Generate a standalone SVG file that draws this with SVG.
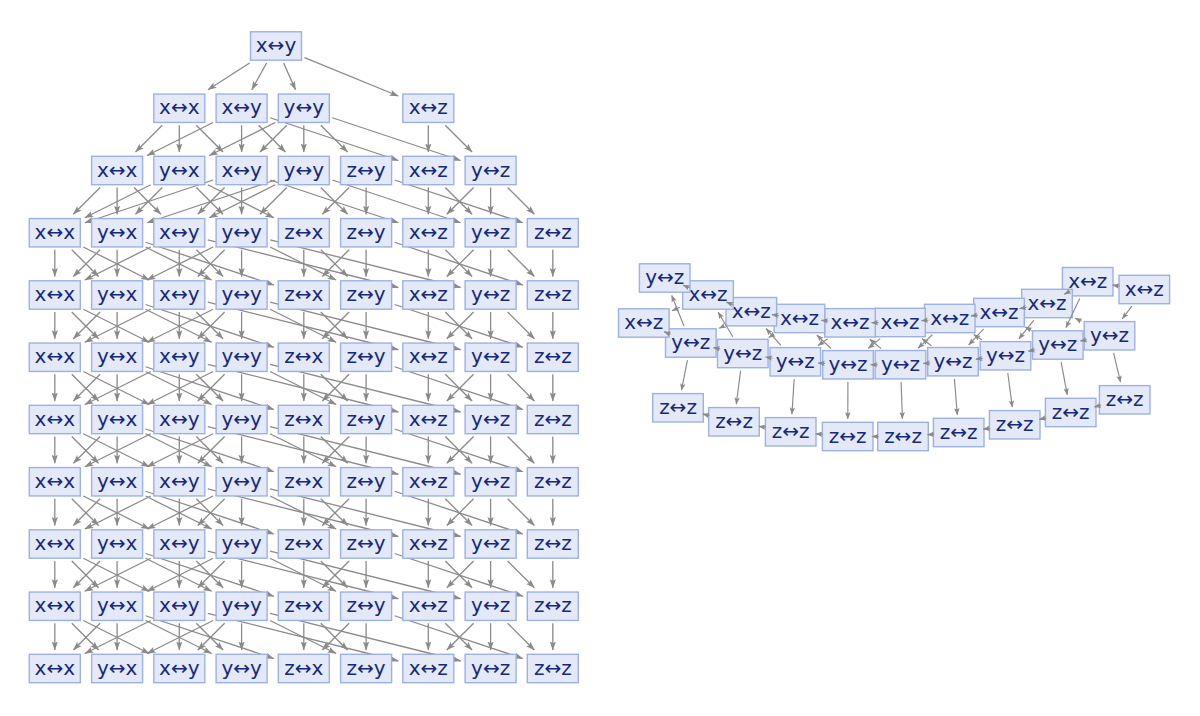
<svg xmlns="http://www.w3.org/2000/svg" width="1200" height="716" viewBox="0 0 1200 716">
<style>
.n rect{fill:#e4e9f8;stroke:#9db1e4;stroke-width:1.4}
.n text{font-family:"DejaVu Sans","Liberation Sans",sans-serif;font-size:20px;fill:#16297b;text-anchor:middle}
.e line{stroke:#8a8a8a;stroke-width:1.3;fill:none;marker-end:url(#ah)}
.er line{stroke:#8a8a8a;stroke-width:1.15;fill:none;marker-end:url(#ahs)}
</style>
<defs>
<marker id="ah" markerUnits="userSpaceOnUse" viewBox="0 0 10 8" markerWidth="10" markerHeight="8" refX="8.5" refY="4" orient="auto"><path d="M0,0.9 L9,4 L0,7.1 L1.8,4 z" fill="#8a8a8a"/></marker>
<marker id="ahs" markerUnits="userSpaceOnUse" viewBox="0 0 8 7" markerWidth="8" markerHeight="7" refX="6.6" refY="3.5" orient="auto"><path d="M0,0.8 L7,3.5 L0,6.2 L1.4,3.5 z" fill="#8a8a8a"/></marker>
</defs>
<rect width="1200" height="716" fill="#ffffff"/>
<g id="connectors-left" class="e">
<line x1="249.6" y1="63" x2="208" y2="89.75"/>
<line x1="266.6" y1="63" x2="251.8" y2="89.75"/>
<line x1="283.6" y1="63" x2="295.5" y2="89.75"/>
<line x1="304.5" y1="57.6" x2="398.3" y2="96"/>
<g transform="translate(0,108.25)">
<line x1="162.3" y1="17" x2="135.55" y2="43.75"/>
<line x1="179.3" y1="17" x2="179.3" y2="43.75"/>
<line x1="196.3" y1="17" x2="223.05" y2="43.75"/>
<line x1="241.6" y1="17" x2="241.6" y2="43.75"/>
<line x1="258.6" y1="17" x2="285.35" y2="43.75"/>
<line x1="213.1" y1="14.25" x2="147.1" y2="47.25"/>
<line x1="270.1" y1="9.5" x2="398.35" y2="52.25"/>
<line x1="303.8" y1="17" x2="303.8" y2="43.75"/>
<line x1="286.8" y1="17" x2="260.05" y2="43.75"/>
<line x1="320.8" y1="17" x2="347.55" y2="43.75"/>
<line x1="275.3" y1="14.25" x2="209.3" y2="47.25"/>
<line x1="332.3" y1="9.5" x2="460.55" y2="52.25"/>
<line x1="428.3" y1="17" x2="428.3" y2="43.75"/>
<line x1="445.3" y1="17" x2="472.05" y2="43.75"/>
</g>
<g transform="translate(0,170.5)">
<line x1="100.1" y1="17" x2="73.35" y2="43.75"/>
<line x1="117.1" y1="17" x2="117.1" y2="43.75"/>
<line x1="134.1" y1="17" x2="160.85" y2="43.75"/>
<line x1="162.3" y1="17" x2="135.55" y2="43.75"/>
<line x1="150.8" y1="14.25" x2="84.8" y2="47.25"/>
<line x1="207.8" y1="14.25" x2="273.8" y2="47.25"/>
<line x1="196.3" y1="17" x2="223.05" y2="43.75"/>
<line x1="224.6" y1="17" x2="197.85" y2="43.75"/>
<line x1="241.6" y1="17" x2="241.6" y2="43.75"/>
<line x1="213.1" y1="9.5" x2="84.85" y2="52.25"/>
<line x1="270.1" y1="9.5" x2="398.35" y2="52.25"/>
<line x1="286.8" y1="17" x2="260.05" y2="43.75"/>
<line x1="275.3" y1="14.25" x2="209.3" y2="47.25"/>
<line x1="320.8" y1="17" x2="347.55" y2="43.75"/>
<line x1="275.3" y1="9.5" x2="147.05" y2="52.25"/>
<line x1="332.3" y1="9.5" x2="460.55" y2="52.25"/>
<line x1="366.1" y1="17" x2="366.1" y2="43.75"/>
<line x1="349.1" y1="17" x2="322.35" y2="43.75"/>
<line x1="394.6" y1="9.5" x2="522.85" y2="52.25"/>
<line x1="428.3" y1="17" x2="428.3" y2="43.75"/>
<line x1="445.3" y1="17" x2="472.05" y2="43.75"/>
<line x1="490.6" y1="17" x2="490.6" y2="43.75"/>
<line x1="473.6" y1="17" x2="446.85" y2="43.75"/>
<line x1="507.6" y1="17" x2="534.35" y2="43.75"/>
</g>
<g transform="translate(0,232.75)">
<line x1="54.8" y1="17" x2="54.8" y2="43.75"/><line x1="71.8" y1="17" x2="98.55" y2="43.75"/><line x1="83.3" y1="14.25" x2="149.3" y2="47.25"/>
<line x1="117.1" y1="17" x2="117.1" y2="43.75"/><line x1="100.1" y1="17" x2="73.35" y2="43.75"/><line x1="145.6" y1="9.5" x2="273.85" y2="52.25"/><line x1="145.6" y1="14.25" x2="211.6" y2="47.25"/>
<line x1="179.3" y1="17" x2="179.3" y2="43.75"/><line x1="196.3" y1="17" x2="223.05" y2="43.75"/><line x1="150.8" y1="14.25" x2="84.8" y2="47.25"/><line x1="207.8" y1="7.13" x2="398.3" y2="54.75"/>
<line x1="241.6" y1="17" x2="241.6" y2="43.75"/><line x1="224.6" y1="17" x2="197.85" y2="43.75"/><line x1="270.1" y1="14.25" x2="336.1" y2="47.25"/><line x1="213.1" y1="14.25" x2="147.1" y2="47.25"/><line x1="270.1" y1="7.13" x2="460.6" y2="54.75"/>
<line x1="303.8" y1="17" x2="303.8" y2="43.75"/><line x1="320.8" y1="17" x2="347.55" y2="43.75"/>
<line x1="366.1" y1="17" x2="366.1" y2="43.75"/><line x1="349.1" y1="17" x2="322.35" y2="43.75"/><line x1="394.6" y1="9.5" x2="522.85" y2="52.25"/>
<line x1="428.3" y1="17" x2="428.3" y2="43.75"/><line x1="445.3" y1="17" x2="472.05" y2="43.75"/>
<line x1="490.6" y1="17" x2="490.6" y2="43.75"/><line x1="473.6" y1="17" x2="446.85" y2="43.75"/><line x1="507.6" y1="17" x2="534.35" y2="43.75"/>
<line x1="552.8" y1="17" x2="552.8" y2="43.75"/>
</g>
<g transform="translate(0,295)">
<line x1="54.8" y1="17" x2="54.8" y2="43.75"/><line x1="71.8" y1="17" x2="98.55" y2="43.75"/><line x1="83.3" y1="14.25" x2="149.3" y2="47.25"/>
<line x1="117.1" y1="17" x2="117.1" y2="43.75"/><line x1="100.1" y1="17" x2="73.35" y2="43.75"/><line x1="145.6" y1="9.5" x2="273.85" y2="52.25"/><line x1="145.6" y1="14.25" x2="211.6" y2="47.25"/>
<line x1="179.3" y1="17" x2="179.3" y2="43.75"/><line x1="196.3" y1="17" x2="223.05" y2="43.75"/><line x1="150.8" y1="14.25" x2="84.8" y2="47.25"/><line x1="207.8" y1="7.13" x2="398.3" y2="54.75"/>
<line x1="241.6" y1="17" x2="241.6" y2="43.75"/><line x1="224.6" y1="17" x2="197.85" y2="43.75"/><line x1="270.1" y1="14.25" x2="336.1" y2="47.25"/><line x1="213.1" y1="14.25" x2="147.1" y2="47.25"/><line x1="270.1" y1="7.13" x2="460.6" y2="54.75"/>
<line x1="303.8" y1="17" x2="303.8" y2="43.75"/><line x1="320.8" y1="17" x2="347.55" y2="43.75"/>
<line x1="366.1" y1="17" x2="366.1" y2="43.75"/><line x1="349.1" y1="17" x2="322.35" y2="43.75"/><line x1="394.6" y1="9.5" x2="522.85" y2="52.25"/>
<line x1="428.3" y1="17" x2="428.3" y2="43.75"/><line x1="445.3" y1="17" x2="472.05" y2="43.75"/>
<line x1="490.6" y1="17" x2="490.6" y2="43.75"/><line x1="473.6" y1="17" x2="446.85" y2="43.75"/><line x1="507.6" y1="17" x2="534.35" y2="43.75"/>
<line x1="552.8" y1="17" x2="552.8" y2="43.75"/>
</g>
<g transform="translate(0,357.25)">
<line x1="54.8" y1="17" x2="54.8" y2="43.75"/><line x1="71.8" y1="17" x2="98.55" y2="43.75"/><line x1="83.3" y1="14.25" x2="149.3" y2="47.25"/>
<line x1="117.1" y1="17" x2="117.1" y2="43.75"/><line x1="100.1" y1="17" x2="73.35" y2="43.75"/><line x1="145.6" y1="9.5" x2="273.85" y2="52.25"/><line x1="145.6" y1="14.25" x2="211.6" y2="47.25"/>
<line x1="179.3" y1="17" x2="179.3" y2="43.75"/><line x1="196.3" y1="17" x2="223.05" y2="43.75"/><line x1="150.8" y1="14.25" x2="84.8" y2="47.25"/><line x1="207.8" y1="7.13" x2="398.3" y2="54.75"/>
<line x1="241.6" y1="17" x2="241.6" y2="43.75"/><line x1="224.6" y1="17" x2="197.85" y2="43.75"/><line x1="270.1" y1="14.25" x2="336.1" y2="47.25"/><line x1="213.1" y1="14.25" x2="147.1" y2="47.25"/><line x1="270.1" y1="7.13" x2="460.6" y2="54.75"/>
<line x1="303.8" y1="17" x2="303.8" y2="43.75"/><line x1="320.8" y1="17" x2="347.55" y2="43.75"/>
<line x1="366.1" y1="17" x2="366.1" y2="43.75"/><line x1="349.1" y1="17" x2="322.35" y2="43.75"/><line x1="394.6" y1="9.5" x2="522.85" y2="52.25"/>
<line x1="428.3" y1="17" x2="428.3" y2="43.75"/><line x1="445.3" y1="17" x2="472.05" y2="43.75"/>
<line x1="490.6" y1="17" x2="490.6" y2="43.75"/><line x1="473.6" y1="17" x2="446.85" y2="43.75"/><line x1="507.6" y1="17" x2="534.35" y2="43.75"/>
<line x1="552.8" y1="17" x2="552.8" y2="43.75"/>
</g>
<g transform="translate(0,419.5)">
<line x1="54.8" y1="17" x2="54.8" y2="43.75"/><line x1="71.8" y1="17" x2="98.55" y2="43.75"/><line x1="83.3" y1="14.25" x2="149.3" y2="47.25"/>
<line x1="117.1" y1="17" x2="117.1" y2="43.75"/><line x1="100.1" y1="17" x2="73.35" y2="43.75"/><line x1="145.6" y1="9.5" x2="273.85" y2="52.25"/><line x1="145.6" y1="14.25" x2="211.6" y2="47.25"/>
<line x1="179.3" y1="17" x2="179.3" y2="43.75"/><line x1="196.3" y1="17" x2="223.05" y2="43.75"/><line x1="150.8" y1="14.25" x2="84.8" y2="47.25"/><line x1="207.8" y1="7.13" x2="398.3" y2="54.75"/>
<line x1="241.6" y1="17" x2="241.6" y2="43.75"/><line x1="224.6" y1="17" x2="197.85" y2="43.75"/><line x1="270.1" y1="14.25" x2="336.1" y2="47.25"/><line x1="213.1" y1="14.25" x2="147.1" y2="47.25"/><line x1="270.1" y1="7.13" x2="460.6" y2="54.75"/>
<line x1="303.8" y1="17" x2="303.8" y2="43.75"/><line x1="320.8" y1="17" x2="347.55" y2="43.75"/>
<line x1="366.1" y1="17" x2="366.1" y2="43.75"/><line x1="349.1" y1="17" x2="322.35" y2="43.75"/><line x1="394.6" y1="9.5" x2="522.85" y2="52.25"/>
<line x1="428.3" y1="17" x2="428.3" y2="43.75"/><line x1="445.3" y1="17" x2="472.05" y2="43.75"/>
<line x1="490.6" y1="17" x2="490.6" y2="43.75"/><line x1="473.6" y1="17" x2="446.85" y2="43.75"/><line x1="507.6" y1="17" x2="534.35" y2="43.75"/>
<line x1="552.8" y1="17" x2="552.8" y2="43.75"/>
</g>
<g transform="translate(0,481.75)">
<line x1="54.8" y1="17" x2="54.8" y2="43.75"/><line x1="71.8" y1="17" x2="98.55" y2="43.75"/><line x1="83.3" y1="14.25" x2="149.3" y2="47.25"/>
<line x1="117.1" y1="17" x2="117.1" y2="43.75"/><line x1="100.1" y1="17" x2="73.35" y2="43.75"/><line x1="145.6" y1="9.5" x2="273.85" y2="52.25"/><line x1="145.6" y1="14.25" x2="211.6" y2="47.25"/>
<line x1="179.3" y1="17" x2="179.3" y2="43.75"/><line x1="196.3" y1="17" x2="223.05" y2="43.75"/><line x1="150.8" y1="14.25" x2="84.8" y2="47.25"/><line x1="207.8" y1="7.13" x2="398.3" y2="54.75"/>
<line x1="241.6" y1="17" x2="241.6" y2="43.75"/><line x1="224.6" y1="17" x2="197.85" y2="43.75"/><line x1="270.1" y1="14.25" x2="336.1" y2="47.25"/><line x1="213.1" y1="14.25" x2="147.1" y2="47.25"/><line x1="270.1" y1="7.13" x2="460.6" y2="54.75"/>
<line x1="303.8" y1="17" x2="303.8" y2="43.75"/><line x1="320.8" y1="17" x2="347.55" y2="43.75"/>
<line x1="366.1" y1="17" x2="366.1" y2="43.75"/><line x1="349.1" y1="17" x2="322.35" y2="43.75"/><line x1="394.6" y1="9.5" x2="522.85" y2="52.25"/>
<line x1="428.3" y1="17" x2="428.3" y2="43.75"/><line x1="445.3" y1="17" x2="472.05" y2="43.75"/>
<line x1="490.6" y1="17" x2="490.6" y2="43.75"/><line x1="473.6" y1="17" x2="446.85" y2="43.75"/><line x1="507.6" y1="17" x2="534.35" y2="43.75"/>
<line x1="552.8" y1="17" x2="552.8" y2="43.75"/>
</g>
<g transform="translate(0,544)">
<line x1="54.8" y1="17" x2="54.8" y2="43.75"/><line x1="71.8" y1="17" x2="98.55" y2="43.75"/><line x1="83.3" y1="14.25" x2="149.3" y2="47.25"/>
<line x1="117.1" y1="17" x2="117.1" y2="43.75"/><line x1="100.1" y1="17" x2="73.35" y2="43.75"/><line x1="145.6" y1="9.5" x2="273.85" y2="52.25"/><line x1="145.6" y1="14.25" x2="211.6" y2="47.25"/>
<line x1="179.3" y1="17" x2="179.3" y2="43.75"/><line x1="196.3" y1="17" x2="223.05" y2="43.75"/><line x1="150.8" y1="14.25" x2="84.8" y2="47.25"/><line x1="207.8" y1="7.13" x2="398.3" y2="54.75"/>
<line x1="241.6" y1="17" x2="241.6" y2="43.75"/><line x1="224.6" y1="17" x2="197.85" y2="43.75"/><line x1="270.1" y1="14.25" x2="336.1" y2="47.25"/><line x1="213.1" y1="14.25" x2="147.1" y2="47.25"/><line x1="270.1" y1="7.13" x2="460.6" y2="54.75"/>
<line x1="303.8" y1="17" x2="303.8" y2="43.75"/><line x1="320.8" y1="17" x2="347.55" y2="43.75"/>
<line x1="366.1" y1="17" x2="366.1" y2="43.75"/><line x1="349.1" y1="17" x2="322.35" y2="43.75"/><line x1="394.6" y1="9.5" x2="522.85" y2="52.25"/>
<line x1="428.3" y1="17" x2="428.3" y2="43.75"/><line x1="445.3" y1="17" x2="472.05" y2="43.75"/>
<line x1="490.6" y1="17" x2="490.6" y2="43.75"/><line x1="473.6" y1="17" x2="446.85" y2="43.75"/><line x1="507.6" y1="17" x2="534.35" y2="43.75"/>
<line x1="552.8" y1="17" x2="552.8" y2="43.75"/>
</g>
<g transform="translate(0,606.25)">
<line x1="54.8" y1="17" x2="54.8" y2="43.75"/><line x1="71.8" y1="17" x2="98.55" y2="43.75"/><line x1="83.3" y1="14.25" x2="149.3" y2="47.25"/>
<line x1="117.1" y1="17" x2="117.1" y2="43.75"/><line x1="100.1" y1="17" x2="73.35" y2="43.75"/><line x1="145.6" y1="9.5" x2="273.85" y2="52.25"/><line x1="145.6" y1="14.25" x2="211.6" y2="47.25"/>
<line x1="179.3" y1="17" x2="179.3" y2="43.75"/><line x1="196.3" y1="17" x2="223.05" y2="43.75"/><line x1="150.8" y1="14.25" x2="84.8" y2="47.25"/><line x1="207.8" y1="7.13" x2="398.3" y2="54.75"/>
<line x1="241.6" y1="17" x2="241.6" y2="43.75"/><line x1="224.6" y1="17" x2="197.85" y2="43.75"/><line x1="270.1" y1="14.25" x2="336.1" y2="47.25"/><line x1="213.1" y1="14.25" x2="147.1" y2="47.25"/><line x1="270.1" y1="7.13" x2="460.6" y2="54.75"/>
<line x1="303.8" y1="17" x2="303.8" y2="43.75"/><line x1="320.8" y1="17" x2="347.55" y2="43.75"/>
<line x1="366.1" y1="17" x2="366.1" y2="43.75"/><line x1="349.1" y1="17" x2="322.35" y2="43.75"/><line x1="394.6" y1="9.5" x2="522.85" y2="52.25"/>
<line x1="428.3" y1="17" x2="428.3" y2="43.75"/><line x1="445.3" y1="17" x2="472.05" y2="43.75"/>
<line x1="490.6" y1="17" x2="490.6" y2="43.75"/><line x1="473.6" y1="17" x2="446.85" y2="43.75"/><line x1="507.6" y1="17" x2="534.35" y2="43.75"/>
<line x1="552.8" y1="17" x2="552.8" y2="43.75"/>
</g>
</g>
<g id="nodes-left">
<g id="L1-xy" class="n" transform="translate(276,46)"><rect x="-25.5" y="-14.2" width="51" height="28.4"/><text y="6">x↔y</text></g>
<g id="L2-xx" class="n" transform="translate(179.3,108.25)"><rect x="-25.5" y="-14.2" width="51" height="28.4"/><text y="6">x↔x</text></g>
<g id="L2-xy" class="n" transform="translate(241.6,108.25)"><rect x="-25.5" y="-14.2" width="51" height="28.4"/><text y="6">x↔y</text></g>
<g id="L2-yy" class="n" transform="translate(303.8,108.25)"><rect x="-25.5" y="-14.2" width="51" height="28.4"/><text y="6">y↔y</text></g>
<g id="L2-xz" class="n" transform="translate(428.3,108.25)"><rect x="-25.5" y="-14.2" width="51" height="28.4"/><text y="6">x↔z</text></g>
<g id="L3-xx" class="n" transform="translate(117.1,170.5)"><rect x="-25.5" y="-14.2" width="51" height="28.4"/><text y="6">x↔x</text></g>
<g id="L3-yx" class="n" transform="translate(179.3,170.5)"><rect x="-25.5" y="-14.2" width="51" height="28.4"/><text y="6">y↔x</text></g>
<g id="L3-xy" class="n" transform="translate(241.6,170.5)"><rect x="-25.5" y="-14.2" width="51" height="28.4"/><text y="6">x↔y</text></g>
<g id="L3-yy" class="n" transform="translate(303.8,170.5)"><rect x="-25.5" y="-14.2" width="51" height="28.4"/><text y="6">y↔y</text></g>
<g id="L3-zy" class="n" transform="translate(366.1,170.5)"><rect x="-25.5" y="-14.2" width="51" height="28.4"/><text y="6">z↔y</text></g>
<g id="L3-xz" class="n" transform="translate(428.3,170.5)"><rect x="-25.5" y="-14.2" width="51" height="28.4"/><text y="6">x↔z</text></g>
<g id="L3-yz" class="n" transform="translate(490.6,170.5)"><rect x="-25.5" y="-14.2" width="51" height="28.4"/><text y="6">y↔z</text></g>
<g id="L4" transform="translate(0,232.75)">
<g id="L4-xx" class="n" transform="translate(54.8,0)"><rect x="-25.5" y="-14.2" width="51" height="28.4"/><text y="6">x↔x</text></g>
<g id="L4-yx" class="n" transform="translate(117.1,0)"><rect x="-25.5" y="-14.2" width="51" height="28.4"/><text y="6">y↔x</text></g>
<g id="L4-xy" class="n" transform="translate(179.3,0)"><rect x="-25.5" y="-14.2" width="51" height="28.4"/><text y="6">x↔y</text></g>
<g id="L4-yy" class="n" transform="translate(241.6,0)"><rect x="-25.5" y="-14.2" width="51" height="28.4"/><text y="6">y↔y</text></g>
<g id="L4-zx" class="n" transform="translate(303.8,0)"><rect x="-25.5" y="-14.2" width="51" height="28.4"/><text y="6">z↔x</text></g>
<g id="L4-zy" class="n" transform="translate(366.1,0)"><rect x="-25.5" y="-14.2" width="51" height="28.4"/><text y="6">z↔y</text></g>
<g id="L4-xz" class="n" transform="translate(428.3,0)"><rect x="-25.5" y="-14.2" width="51" height="28.4"/><text y="6">x↔z</text></g>
<g id="L4-yz" class="n" transform="translate(490.6,0)"><rect x="-25.5" y="-14.2" width="51" height="28.4"/><text y="6">y↔z</text></g>
<g id="L4-zz" class="n" transform="translate(552.8,0)"><rect x="-25.5" y="-14.2" width="51" height="28.4"/><text y="6">z↔z</text></g>
</g>
<g id="L5" transform="translate(0,295)">
<g id="L5-xx" class="n" transform="translate(54.8,0)"><rect x="-25.5" y="-14.2" width="51" height="28.4"/><text y="6">x↔x</text></g>
<g id="L5-yx" class="n" transform="translate(117.1,0)"><rect x="-25.5" y="-14.2" width="51" height="28.4"/><text y="6">y↔x</text></g>
<g id="L5-xy" class="n" transform="translate(179.3,0)"><rect x="-25.5" y="-14.2" width="51" height="28.4"/><text y="6">x↔y</text></g>
<g id="L5-yy" class="n" transform="translate(241.6,0)"><rect x="-25.5" y="-14.2" width="51" height="28.4"/><text y="6">y↔y</text></g>
<g id="L5-zx" class="n" transform="translate(303.8,0)"><rect x="-25.5" y="-14.2" width="51" height="28.4"/><text y="6">z↔x</text></g>
<g id="L5-zy" class="n" transform="translate(366.1,0)"><rect x="-25.5" y="-14.2" width="51" height="28.4"/><text y="6">z↔y</text></g>
<g id="L5-xz" class="n" transform="translate(428.3,0)"><rect x="-25.5" y="-14.2" width="51" height="28.4"/><text y="6">x↔z</text></g>
<g id="L5-yz" class="n" transform="translate(490.6,0)"><rect x="-25.5" y="-14.2" width="51" height="28.4"/><text y="6">y↔z</text></g>
<g id="L5-zz" class="n" transform="translate(552.8,0)"><rect x="-25.5" y="-14.2" width="51" height="28.4"/><text y="6">z↔z</text></g>
</g>
<g id="L6" transform="translate(0,357.25)">
<g id="L6-xx" class="n" transform="translate(54.8,0)"><rect x="-25.5" y="-14.2" width="51" height="28.4"/><text y="6">x↔x</text></g>
<g id="L6-yx" class="n" transform="translate(117.1,0)"><rect x="-25.5" y="-14.2" width="51" height="28.4"/><text y="6">y↔x</text></g>
<g id="L6-xy" class="n" transform="translate(179.3,0)"><rect x="-25.5" y="-14.2" width="51" height="28.4"/><text y="6">x↔y</text></g>
<g id="L6-yy" class="n" transform="translate(241.6,0)"><rect x="-25.5" y="-14.2" width="51" height="28.4"/><text y="6">y↔y</text></g>
<g id="L6-zx" class="n" transform="translate(303.8,0)"><rect x="-25.5" y="-14.2" width="51" height="28.4"/><text y="6">z↔x</text></g>
<g id="L6-zy" class="n" transform="translate(366.1,0)"><rect x="-25.5" y="-14.2" width="51" height="28.4"/><text y="6">z↔y</text></g>
<g id="L6-xz" class="n" transform="translate(428.3,0)"><rect x="-25.5" y="-14.2" width="51" height="28.4"/><text y="6">x↔z</text></g>
<g id="L6-yz" class="n" transform="translate(490.6,0)"><rect x="-25.5" y="-14.2" width="51" height="28.4"/><text y="6">y↔z</text></g>
<g id="L6-zz" class="n" transform="translate(552.8,0)"><rect x="-25.5" y="-14.2" width="51" height="28.4"/><text y="6">z↔z</text></g>
</g>
<g id="L7" transform="translate(0,419.5)">
<g id="L7-xx" class="n" transform="translate(54.8,0)"><rect x="-25.5" y="-14.2" width="51" height="28.4"/><text y="6">x↔x</text></g>
<g id="L7-yx" class="n" transform="translate(117.1,0)"><rect x="-25.5" y="-14.2" width="51" height="28.4"/><text y="6">y↔x</text></g>
<g id="L7-xy" class="n" transform="translate(179.3,0)"><rect x="-25.5" y="-14.2" width="51" height="28.4"/><text y="6">x↔y</text></g>
<g id="L7-yy" class="n" transform="translate(241.6,0)"><rect x="-25.5" y="-14.2" width="51" height="28.4"/><text y="6">y↔y</text></g>
<g id="L7-zx" class="n" transform="translate(303.8,0)"><rect x="-25.5" y="-14.2" width="51" height="28.4"/><text y="6">z↔x</text></g>
<g id="L7-zy" class="n" transform="translate(366.1,0)"><rect x="-25.5" y="-14.2" width="51" height="28.4"/><text y="6">z↔y</text></g>
<g id="L7-xz" class="n" transform="translate(428.3,0)"><rect x="-25.5" y="-14.2" width="51" height="28.4"/><text y="6">x↔z</text></g>
<g id="L7-yz" class="n" transform="translate(490.6,0)"><rect x="-25.5" y="-14.2" width="51" height="28.4"/><text y="6">y↔z</text></g>
<g id="L7-zz" class="n" transform="translate(552.8,0)"><rect x="-25.5" y="-14.2" width="51" height="28.4"/><text y="6">z↔z</text></g>
</g>
<g id="L8" transform="translate(0,481.75)">
<g id="L8-xx" class="n" transform="translate(54.8,0)"><rect x="-25.5" y="-14.2" width="51" height="28.4"/><text y="6">x↔x</text></g>
<g id="L8-yx" class="n" transform="translate(117.1,0)"><rect x="-25.5" y="-14.2" width="51" height="28.4"/><text y="6">y↔x</text></g>
<g id="L8-xy" class="n" transform="translate(179.3,0)"><rect x="-25.5" y="-14.2" width="51" height="28.4"/><text y="6">x↔y</text></g>
<g id="L8-yy" class="n" transform="translate(241.6,0)"><rect x="-25.5" y="-14.2" width="51" height="28.4"/><text y="6">y↔y</text></g>
<g id="L8-zx" class="n" transform="translate(303.8,0)"><rect x="-25.5" y="-14.2" width="51" height="28.4"/><text y="6">z↔x</text></g>
<g id="L8-zy" class="n" transform="translate(366.1,0)"><rect x="-25.5" y="-14.2" width="51" height="28.4"/><text y="6">z↔y</text></g>
<g id="L8-xz" class="n" transform="translate(428.3,0)"><rect x="-25.5" y="-14.2" width="51" height="28.4"/><text y="6">x↔z</text></g>
<g id="L8-yz" class="n" transform="translate(490.6,0)"><rect x="-25.5" y="-14.2" width="51" height="28.4"/><text y="6">y↔z</text></g>
<g id="L8-zz" class="n" transform="translate(552.8,0)"><rect x="-25.5" y="-14.2" width="51" height="28.4"/><text y="6">z↔z</text></g>
</g>
<g id="L9" transform="translate(0,544)">
<g id="L9-xx" class="n" transform="translate(54.8,0)"><rect x="-25.5" y="-14.2" width="51" height="28.4"/><text y="6">x↔x</text></g>
<g id="L9-yx" class="n" transform="translate(117.1,0)"><rect x="-25.5" y="-14.2" width="51" height="28.4"/><text y="6">y↔x</text></g>
<g id="L9-xy" class="n" transform="translate(179.3,0)"><rect x="-25.5" y="-14.2" width="51" height="28.4"/><text y="6">x↔y</text></g>
<g id="L9-yy" class="n" transform="translate(241.6,0)"><rect x="-25.5" y="-14.2" width="51" height="28.4"/><text y="6">y↔y</text></g>
<g id="L9-zx" class="n" transform="translate(303.8,0)"><rect x="-25.5" y="-14.2" width="51" height="28.4"/><text y="6">z↔x</text></g>
<g id="L9-zy" class="n" transform="translate(366.1,0)"><rect x="-25.5" y="-14.2" width="51" height="28.4"/><text y="6">z↔y</text></g>
<g id="L9-xz" class="n" transform="translate(428.3,0)"><rect x="-25.5" y="-14.2" width="51" height="28.4"/><text y="6">x↔z</text></g>
<g id="L9-yz" class="n" transform="translate(490.6,0)"><rect x="-25.5" y="-14.2" width="51" height="28.4"/><text y="6">y↔z</text></g>
<g id="L9-zz" class="n" transform="translate(552.8,0)"><rect x="-25.5" y="-14.2" width="51" height="28.4"/><text y="6">z↔z</text></g>
</g>
<g id="L10" transform="translate(0,606.25)">
<g id="L10-xx" class="n" transform="translate(54.8,0)"><rect x="-25.5" y="-14.2" width="51" height="28.4"/><text y="6">x↔x</text></g>
<g id="L10-yx" class="n" transform="translate(117.1,0)"><rect x="-25.5" y="-14.2" width="51" height="28.4"/><text y="6">y↔x</text></g>
<g id="L10-xy" class="n" transform="translate(179.3,0)"><rect x="-25.5" y="-14.2" width="51" height="28.4"/><text y="6">x↔y</text></g>
<g id="L10-yy" class="n" transform="translate(241.6,0)"><rect x="-25.5" y="-14.2" width="51" height="28.4"/><text y="6">y↔y</text></g>
<g id="L10-zx" class="n" transform="translate(303.8,0)"><rect x="-25.5" y="-14.2" width="51" height="28.4"/><text y="6">z↔x</text></g>
<g id="L10-zy" class="n" transform="translate(366.1,0)"><rect x="-25.5" y="-14.2" width="51" height="28.4"/><text y="6">z↔y</text></g>
<g id="L10-xz" class="n" transform="translate(428.3,0)"><rect x="-25.5" y="-14.2" width="51" height="28.4"/><text y="6">x↔z</text></g>
<g id="L10-yz" class="n" transform="translate(490.6,0)"><rect x="-25.5" y="-14.2" width="51" height="28.4"/><text y="6">y↔z</text></g>
<g id="L10-zz" class="n" transform="translate(552.8,0)"><rect x="-25.5" y="-14.2" width="51" height="28.4"/><text y="6">z↔z</text></g>
</g>
<g id="L11" transform="translate(0,668.5)">
<g id="L11-xx" class="n" transform="translate(54.8,0)"><rect x="-25.5" y="-14.2" width="51" height="28.4"/><text y="6">x↔x</text></g>
<g id="L11-yx" class="n" transform="translate(117.1,0)"><rect x="-25.5" y="-14.2" width="51" height="28.4"/><text y="6">y↔x</text></g>
<g id="L11-xy" class="n" transform="translate(179.3,0)"><rect x="-25.5" y="-14.2" width="51" height="28.4"/><text y="6">x↔y</text></g>
<g id="L11-yy" class="n" transform="translate(241.6,0)"><rect x="-25.5" y="-14.2" width="51" height="28.4"/><text y="6">y↔y</text></g>
<g id="L11-zx" class="n" transform="translate(303.8,0)"><rect x="-25.5" y="-14.2" width="51" height="28.4"/><text y="6">z↔x</text></g>
<g id="L11-zy" class="n" transform="translate(366.1,0)"><rect x="-25.5" y="-14.2" width="51" height="28.4"/><text y="6">z↔y</text></g>
<g id="L11-xz" class="n" transform="translate(428.3,0)"><rect x="-25.5" y="-14.2" width="51" height="28.4"/><text y="6">x↔z</text></g>
<g id="L11-yz" class="n" transform="translate(490.6,0)"><rect x="-25.5" y="-14.2" width="51" height="28.4"/><text y="6">y↔z</text></g>
<g id="L11-zz" class="n" transform="translate(552.8,0)"><rect x="-25.5" y="-14.2" width="51" height="28.4"/><text y="6">z↔z</text></g>
</g>
</g>
<g id="nodes-right">
<g id="X0" class="n" transform="translate(1144.3,289.5)"><rect x="-25.3" y="-14.2" width="50.6" height="28.4"/><text y="6">x↔z</text></g>
<g id="X1" class="n" transform="translate(1087.7,281.7)"><rect x="-25.3" y="-14.2" width="50.6" height="28.4"/><text y="6">x↔z</text></g>
<g id="Y1" class="n" transform="translate(1109.5,335.8)"><rect x="-25.3" y="-14.2" width="50.6" height="28.4"/><text y="6">y↔z</text></g>
<g id="X2" class="n" transform="translate(1047,303.5)"><rect x="-25.3" y="-14.2" width="50.6" height="28.4"/><text y="6">x↔z</text></g>
<g id="Y2" class="n" transform="translate(1057.8,345)"><rect x="-25.3" y="-14.2" width="50.6" height="28.4"/><text y="6">y↔z</text></g>
<g id="Z2" class="n" transform="translate(1124.7,399.8)"><rect x="-25.3" y="-14.2" width="50.6" height="28.4"/><text y="6">z↔z</text></g>
<g id="X3" class="n" transform="translate(999,312.5)"><rect x="-25.3" y="-14.2" width="50.6" height="28.4"/><text y="6">x↔z</text></g>
<g id="Y3" class="n" transform="translate(1005.5,355.8)"><rect x="-25.3" y="-14.2" width="50.6" height="28.4"/><text y="6">y↔z</text></g>
<g id="Z3" class="n" transform="translate(1070.7,412.5)"><rect x="-25.3" y="-14.2" width="50.6" height="28.4"/><text y="6">z↔z</text></g>
<g id="X4" class="n" transform="translate(949.7,318.5)"><rect x="-25.3" y="-14.2" width="50.6" height="28.4"/><text y="6">x↔z</text></g>
<g id="Y4" class="n" transform="translate(953,361.7)"><rect x="-25.3" y="-14.2" width="50.6" height="28.4"/><text y="6">y↔z</text></g>
<g id="Z4" class="n" transform="translate(1014.7,424.8)"><rect x="-25.3" y="-14.2" width="50.6" height="28.4"/><text y="6">z↔z</text></g>
<g id="X5" class="n" transform="translate(900,322.5)"><rect x="-25.3" y="-14.2" width="50.6" height="28.4"/><text y="6">x↔z</text></g>
<g id="Y5" class="n" transform="translate(900.5,364.7)"><rect x="-25.3" y="-14.2" width="50.6" height="28.4"/><text y="6">y↔z</text></g>
<g id="Z5" class="n" transform="translate(958.7,432.5)"><rect x="-25.3" y="-14.2" width="50.6" height="28.4"/><text y="6">z↔z</text></g>
<g id="X6" class="n" transform="translate(850,322.8)"><rect x="-25.3" y="-14.2" width="50.6" height="28.4"/><text y="6">x↔z</text></g>
<g id="Y6" class="n" transform="translate(848,364.8)"><rect x="-25.3" y="-14.2" width="50.6" height="28.4"/><text y="6">y↔z</text></g>
<g id="Z6" class="n" transform="translate(903,436.5)"><rect x="-25.3" y="-14.2" width="50.6" height="28.4"/><text y="6">z↔z</text></g>
<g id="X7" class="n" transform="translate(799.5,318.5)"><rect x="-25.3" y="-14.2" width="50.6" height="28.4"/><text y="6">x↔z</text></g>
<g id="Y7" class="n" transform="translate(795.3,361.8)"><rect x="-25.3" y="-14.2" width="50.6" height="28.4"/><text y="6">y↔z</text></g>
<g id="Z7" class="n" transform="translate(847.7,436.5)"><rect x="-25.3" y="-14.2" width="50.6" height="28.4"/><text y="6">z↔z</text></g>
<g id="X8" class="n" transform="translate(751.3,311.7)"><rect x="-25.3" y="-14.2" width="50.6" height="28.4"/><text y="6">x↔z</text></g>
<g id="Y8" class="n" transform="translate(742.8,353.5)"><rect x="-25.3" y="-14.2" width="50.6" height="28.4"/><text y="6">y↔z</text></g>
<g id="Z8" class="n" transform="translate(790.7,431.8)"><rect x="-25.3" y="-14.2" width="50.6" height="28.4"/><text y="6">z↔z</text></g>
<g id="X9" class="n" transform="translate(708,295)"><rect x="-25.3" y="-14.2" width="50.6" height="28.4"/><text y="6">x↔z</text></g>
<g id="Y9" class="n" transform="translate(690.8,343)"><rect x="-25.3" y="-14.2" width="50.6" height="28.4"/><text y="6">y↔z</text></g>
<g id="Z9" class="n" transform="translate(734,421.8)"><rect x="-25.3" y="-14.2" width="50.6" height="28.4"/><text y="6">z↔z</text></g>
<g id="Y10" class="n" transform="translate(664.7,278)"><rect x="-25.3" y="-14.2" width="50.6" height="28.4"/><text y="6">y↔z</text></g>
<g id="X10" class="n" transform="translate(643.8,323)"><rect x="-25.3" y="-14.2" width="50.6" height="28.4"/><text y="6">x↔z</text></g>
<g id="Z10" class="n" transform="translate(678,407.8)"><rect x="-25.3" y="-14.2" width="50.6" height="28.4"/><text y="6">z↔z</text></g>
</g>
<g id="connectors-right" class="er">
<line x1="1119.5" y1="286.1" x2="1112.5" y2="285.1"/>
<line x1="1131.8" y1="306.1" x2="1122.3" y2="318.8"/>
<line x1="1070.4" y1="290.9" x2="1064.3" y2="294.3"/>
<line x1="1079.7" y1="298.6" x2="1066" y2="327.6"/>
<line x1="1087.1" y1="339.8" x2="1080.2" y2="341"/>
<line x1="1081.5" y1="321.35" x2="1075.4" y2="318.2"/>
<line x1="1113.6" y1="352.9" x2="1120.5" y2="382.2"/>
<line x1="1026.4" y1="307.4" x2="1019.6" y2="308.6"/>
<line x1="1033.9" y1="320.05" x2="1018.9" y2="338.9"/>
<line x1="1035.1" y1="349.7" x2="1028.2" y2="351.1"/>
<line x1="1031.5" y1="330.4" x2="1025.3" y2="327.1"/>
<line x1="1061.1" y1="362.2" x2="1067.3" y2="394.8"/>
<line x1="1101.1" y1="405.4" x2="1094.3" y2="406.95"/>
<line x1="977.8" y1="315.1" x2="970.9" y2="315.9"/>
<line x1="983.7" y1="328.9" x2="968.7" y2="344.9"/>
<line x1="982.7" y1="358.4" x2="975.8" y2="359.1"/>
<line x1="981.8" y1="339.9" x2="973.85" y2="334.6"/>
<line x1="1007.8" y1="373" x2="1012.3" y2="407.1"/>
<line x1="1046.1" y1="417.9" x2="1039.3" y2="419.4"/>
<line x1="928.3" y1="320.2" x2="921.4" y2="320.8"/>
<line x1="932.4" y1="334.75" x2="918.2" y2="348.1"/>
<line x1="930.2" y1="363" x2="923.3" y2="363.4"/>
<line x1="931.4" y1="345.7" x2="922" y2="338.8"/>
<line x1="954.4" y1="378.9" x2="957.3" y2="414.8"/>
<line x1="990.2" y1="428.2" x2="983.2" y2="429.1"/>
<line x1="878.5" y1="322.6" x2="871.5" y2="322.7"/>
<line x1="880.2" y1="338.6" x2="868.2" y2="348.4"/>
<line x1="877.75" y1="364.75" x2="870.75" y2="364.75"/>
<line x1="881.1" y1="348.6" x2="869.8" y2="339.2"/>
<line x1="901.1" y1="381.9" x2="902.4" y2="418.8"/>
<line x1="934.3" y1="434.25" x2="927.4" y2="434.75"/>
<line x1="828.2" y1="320.95" x2="821.3" y2="320.35"/>
<line x1="827.6" y1="338.7" x2="818.1" y2="345.6"/>
<line x1="825.1" y1="363.5" x2="818.2" y2="363.1"/>
<line x1="830.96" y1="348.5" x2="816.9" y2="335.1"/>
<line x1="847.9" y1="382" x2="847.8" y2="418.8"/>
<line x1="878.85" y1="436.5" x2="871.85" y2="436.5"/>
<line x1="778.9" y1="315.6" x2="771.9" y2="314.6"/>
<line x1="773.95" y1="334.3" x2="768.8" y2="337.5"/>
<line x1="772.5" y1="358.2" x2="765.6" y2="357.1"/>
<line x1="780.85" y1="345.35" x2="766.1" y2="328.5"/>
<line x1="794.2" y1="379" x2="791.9" y2="414.1"/>
<line x1="822.7" y1="434.4" x2="815.7" y2="433.9"/>
<line x1="732.9" y1="304.6" x2="726.4" y2="302.1"/>
<line x1="723.3" y1="326.2" x2="719.2" y2="328.3"/>
<line x1="720.2" y1="348.9" x2="713.4" y2="347.6"/>
<line x1="732.8" y1="336.7" x2="718.2" y2="312.2"/>
<line x1="740.6" y1="370.7" x2="736.3" y2="404.1"/>
<line x1="765.8" y1="427.4" x2="758.9" y2="426.2"/>
<line x1="679.96" y1="307.2" x2="672.3" y2="310.6"/>
<line x1="689.6" y1="287.8" x2="683.1" y2="285.2"/>
<line x1="684" y1="326" x2="671.7" y2="295.45"/>
<line x1="670.5" y1="334.4" x2="664.1" y2="331.6"/>
<line x1="687.4" y1="360.1" x2="681.5" y2="390.2"/>
<line x1="709.4" y1="415.65" x2="702.6" y2="413.95"/>
</g>
</svg>
